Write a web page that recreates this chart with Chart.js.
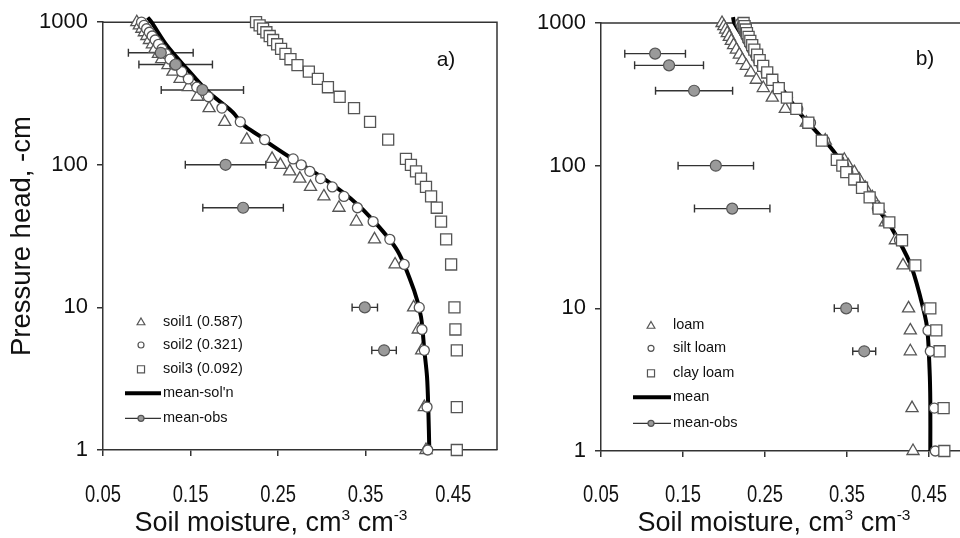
<!DOCTYPE html>
<html>
<head>
<meta charset="utf-8">
<script src="https://cdn.jsdelivr.net/npm/chart.js@4.4.1/dist/chart.umd.min.js"></script>
<style>
  html, body { margin: 0; padding: 0; background: #fff; overflow: hidden; width: 960px; height: 538px; }
  #left { position: absolute; left: 0; top: 0; }
  #right { position: absolute; left: 520px; top: 0; }
</style>
</head>
<body>
<canvas id="left" width="540" height="538"></canvas>
<canvas id="right" width="460" height="538"></canvas>
<script>
// pressure heads (-cm) of the simulated points
const heads = [1000, 950, 900, 850, 800, 750, 700, 650, 600, 550, 500, 450, 400, 350, 300, 250, 200, 150, 110, 100, 90, 80, 70, 60, 50, 40, 30, 20, 10, 7, 5, 2, 1];

// panel a)
const soil1 = [0.0886, 0.0915, 0.0944, 0.0972, 0.1001, 0.1030, 0.1064, 0.1093, 0.1133, 0.1170, 0.1242, 0.1299, 0.1380, 0.1475, 0.1578, 0.1712, 0.1890, 0.2142, 0.2431, 0.2526, 0.2633, 0.2748, 0.2870, 0.3023, 0.3195, 0.3394, 0.3601, 0.3836, 0.4048, 0.4101, 0.4140, 0.4170, 0.4189];
const soil2 = [0.0940, 0.0968, 0.0998, 0.1029, 0.1061, 0.1096, 0.1134, 0.1174, 0.1218, 0.1265, 0.1317, 0.1399, 0.1475, 0.1571, 0.1704, 0.1858, 0.2068, 0.2346, 0.2672, 0.2764, 0.2862, 0.2985, 0.3119, 0.3252, 0.3406, 0.3585, 0.3776, 0.3940, 0.4112, 0.4143, 0.4170, 0.4201, 0.4209];
const soil3 = [0.2248, 0.2289, 0.2328, 0.2366, 0.2404, 0.2443, 0.2489, 0.2534, 0.2584, 0.2641, 0.2721, 0.2851, 0.2954, 0.3069, 0.3203, 0.3367, 0.3550, 0.3757, 0.3960, 0.4017, 0.4075, 0.4132, 0.4189, 0.4247, 0.4312, 0.4361, 0.4419, 0.4476, 0.4514, 0.4525, 0.4541, 0.4541, 0.4541];
const meanSolHeads = [1080, 1000, 689, 473, 325, 236, 190, 158, 142, 108.6, 83, 58, 40, 24.9, 13.1, 8.6, 5, 3.25, 1.9, 1];
const meanSol = [0.1010, 0.1054, 0.1227, 0.1456, 0.1700, 0.1975, 0.2105, 0.2297, 0.2392, 0.2679, 0.2985, 0.3329, 0.3600, 0.3865, 0.4054, 0.4132, 0.4170, 0.4201, 0.4216, 0.4227];

// panel b)
const loam = [0.1976, 0.1998, 0.2020, 0.2040, 0.2065, 0.2089, 0.2117, 0.2150, 0.2187, 0.2223, 0.2272, 0.2327, 0.2394, 0.2479, 0.2589, 0.2748, 0.3004, 0.3235, 0.3467, 0.3516, 0.3589, 0.3650, 0.3723, 0.3809, 0.3894, 0.3968, 0.4090, 0.4183, 0.4251, 0.4272, 0.4272, 0.4293, 0.4305];
const siltLoam = [0.2200, 0.2215, 0.2232, 0.2249, 0.2270, 0.2292, 0.2317, 0.2345, 0.2380, 0.2414, 0.2460, 0.2514, 0.2582, 0.2668, 0.2775, 0.2900, 0.3055, 0.3225, 0.3400, 0.3460, 0.3510, 0.3600, 0.3690, 0.3775, 0.3870, 0.3995, 0.4140, 0.4310, 0.4476, 0.4488, 0.4516, 0.4565, 0.4577];
const clayLoam = [0.2239, 0.2251, 0.2266, 0.2280, 0.2300, 0.2321, 0.2344, 0.2370, 0.2404, 0.2435, 0.2478, 0.2527, 0.2589, 0.2668, 0.2767, 0.2882, 0.3028, 0.3193, 0.3376, 0.3443, 0.3491, 0.3589, 0.3683, 0.3776, 0.3885, 0.4016, 0.4171, 0.4333, 0.4516, 0.4589, 0.4629, 0.4678, 0.4687];
const meanHeads = [1100, 1000, 700, 500, 350, 231, 182, 135, 100, 70, 47.3, 36.2, 20.5, 12, 7.4, 3.7, 2.2, 1];
const mean = [0.2110, 0.2126, 0.2300, 0.2490, 0.2700, 0.2930, 0.3093, 0.3296, 0.3470, 0.3700, 0.3906, 0.4049, 0.4272, 0.4394, 0.4476, 0.4507, 0.4516, 0.4516];

// observed mean with spread (both panels)
const obsHeads = [610, 505, 335, 100, 50, 10, 5];
const obsMoisture = [0.116, 0.133, 0.1635, 0.190, 0.210, 0.349, 0.371];
const obsError = [0.037, 0.042, 0.047, 0.046, 0.046, 0.0145, 0.014];

const xTicks = [0.05, 0.15, 0.25, 0.35, 0.45];
const xTickLabels = ['0.05', '0.15', '0.25', '0.35', '0.45'];
const yTicks = [1, 10, 100, 1000];
const yTickLabels = ['1', '10', '100', '1000'];
const leftNames = ['soil1 (0.587)', 'soil2 (0.321)', 'soil3 (0.092)', "mean-sol'n", 'mean-obs'];
const rightNames = ['loam', 'silt loam', 'clay loam', 'mean', 'mean-obs'];

const SANS = '"Liberation Sans", Arial, sans-serif';
const EDGE = '#555';
const AXIS = '#333';

function pts(xs, ys) {
  return xs.map((x, i) => ({ x: x, y: ys[i] }));
}

function markers(label, xs, style, r, order) {
  return {
    label: label, data: pts(xs, heads), pointStyle: style,
    pointRadius: r, pointHoverRadius: r, pointBackgroundColor: '#fff',
    pointBorderColor: EDGE, pointBorderWidth: 1.3, showLine: false, clip: false, order: order
  };
}

function curve(label, xs, ys) {
  return {
    label: label, data: pts(xs, ys), showLine: true, borderColor: '#000', borderWidth: 4,
    pointRadius: 0, tension: 0.3, clip: false, order: 10
  };
}

function obs() {
  return {
    label: 'mean-obs', data: pts(obsMoisture, obsHeads), xErr: obsError, pointStyle: 'circle',
    pointRadius: 5.5, pointBackgroundColor: '#9a9a9a', pointBorderColor: EDGE, pointBorderWidth: 1.2,
    showLine: false, clip: false, order: 0
  };
}

const framePlugin = {
  id: 'frame',
  beforeDatasetsDraw(chart) {
    const ctx = chart.ctx, a = chart.chartArea;
    ctx.save();
    ctx.strokeStyle = AXIS;
    ctx.lineWidth = 1.5;
    ctx.beginPath();
    ctx.moveTo(a.left, a.top);
    ctx.lineTo(a.right, a.top);
    ctx.lineTo(a.right, a.bottom);
    ctx.stroke();
    // horizontal error bars of the observations
    const xs = chart.scales.x, ys = chart.scales.y;
    ctx.strokeStyle = '#333';
    ctx.lineWidth = 1.4;
    chart.data.datasets.forEach(ds => {
      if (!ds.xErr) return;
      ds.data.forEach((p, i) => {
        const y = ys.getPixelForValue(p.y);
        const x0 = xs.getPixelForValue(p.x - ds.xErr[i]);
        const x1 = xs.getPixelForValue(p.x + ds.xErr[i]);
        ctx.beginPath();
        ctx.moveTo(x0, y); ctx.lineTo(x1, y);
        ctx.moveTo(x0, y - 4); ctx.lineTo(x0, y + 4);
        ctx.moveTo(x1, y - 4); ctx.lineTo(x1, y + 4);
        ctx.stroke();
      });
    });
    ctx.restore();
  }
};

const decorPlugin = {
  id: 'decor',
  afterDraw(chart, args, o) {
    const ctx = chart.ctx;
    const h = Chart.helpers;
    ctx.save();
    // condensed x tick labels
    ctx.font = '23px ' + SANS;
    ctx.fillStyle = '#111';
    ctx.textAlign = 'center';
    ctx.textBaseline = 'alphabetic';
    xTicks.forEach((v, i) => {
      ctx.save();
      ctx.translate(chart.scales.x.getPixelForValue(v), 502);
      ctx.scale(0.8, 1);
      ctx.fillText(xTickLabels[i], 0, 0);
      ctx.restore();
    });
    // legend
    ctx.font = '14.5px ' + SANS;
    ctx.textBaseline = 'middle';
    o.names.forEach((name, i) => {
      const y = o.rowY[i];
      ctx.strokeStyle = EDGE;
      ctx.fillStyle = '#fff';
      if (i === 0) h.drawPoint(ctx, { pointStyle: 'triangle', radius: 4.5, borderWidth: 1.1 }, o.symX, y + 1);
      if (i === 1) h.drawPoint(ctx, { pointStyle: 'circle', radius: 3, borderWidth: 1.1 }, o.symX, y);
      if (i === 2) h.drawPoint(ctx, { pointStyle: 'rect', radius: 5, borderWidth: 1.1 }, o.symX, y);
      if (i === 3) {
        ctx.strokeStyle = '#000'; ctx.lineWidth = 4;
        ctx.beginPath(); ctx.moveTo(o.lineX0, y); ctx.lineTo(o.lineX1, y); ctx.stroke();
      }
      if (i === 4) {
        ctx.strokeStyle = '#333'; ctx.lineWidth = 1.3;
        ctx.beginPath(); ctx.moveTo(o.lineX0, y); ctx.lineTo(o.lineX1, y); ctx.stroke();
        ctx.fillStyle = '#9a9a9a'; ctx.strokeStyle = EDGE;
        h.drawPoint(ctx, { pointStyle: 'circle', radius: 3, borderWidth: 1 }, o.symX, y);
      }
      ctx.fillStyle = '#111';
      ctx.textAlign = 'left';
      ctx.fillText(name, o.textX, y);
    });
    // panel letter
    ctx.font = '21px ' + SANS;
    ctx.textAlign = 'center';
    ctx.textBaseline = 'alphabetic';
    ctx.fillText(o.letter, o.letterX, o.letterY);
    // x axis title with superscripts
    const big = '27px ' + SANS, small = '15.5px ' + SANS;
    const parts = [['Soil moisture, cm', big, 0], ['3', small, -11], [' cm', big, 0], ['-3', small, -11]];
    let total = 0;
    parts.forEach(p => { ctx.font = p[1]; total += ctx.measureText(p[0]).width; });
    let x = o.titleX - total / 2;
    ctx.textAlign = 'left';
    parts.forEach(p => {
      ctx.font = p[1];
      ctx.fillText(p[0], x, o.titleY + p[2]);
      x += ctx.measureText(p[0]).width;
    });
    ctx.restore();
  }
};

function scales(yWidth, xHeight, yTitle) {
  return {
    x: {
      type: 'linear', min: 0.05, max: 0.5,
      afterBuildTicks: s => { s.ticks = xTicks.map(v => ({ value: v })); },
      afterFit: s => { s.height = xHeight; },
      grid: { display: true, drawOnChartArea: false, drawTicks: true, tickLength: 6, color: AXIS, lineWidth: 1.5 },
      border: { display: true, color: AXIS, width: 1.5 },
      // labels are drawn condensed by the decor plugin
      ticks: { font: { family: SANS, size: 22 }, color: 'rgba(0,0,0,0)', padding: 22, maxRotation: 0, autoSkip: false,
               callback: (v, i) => xTickLabels[i] }
    },
    y: {
      type: 'logarithmic', min: 1, max: 1000,
      afterBuildTicks: s => { s.ticks = yTicks.map(v => ({ value: v })); },
      afterFit: s => { s.width = yWidth; },
      grid: { display: true, drawOnChartArea: false, drawTicks: true, tickLength: 6, color: AXIS, lineWidth: 1.5 },
      border: { display: true, color: AXIS, width: 1.5 },
      ticks: { font: { family: SANS, size: 22 }, color: '#111', padding: 9, autoSkip: false,
               callback: (v, i) => yTickLabels[i] },
      title: { display: yTitle, text: 'Pressure head, -cm', color: '#111',
               font: { family: SANS, size: 27.5 }, padding: { top: 6, bottom: 0 } }
    }
  };
}

new Chart(document.getElementById('left'), {
  type: 'scatter',
  data: {
    datasets: [
      obs(),
      markers(leftNames[2], soil3, 'rect', 7.8, 1),
      markers(leftNames[1], soil2, 'circle', 5, 2),
      markers(leftNames[0], soil1, 'triangle', 7, 3),
      curve(leftNames[3], meanSol, meanSolHeads)
    ]
  },
  options: {
    responsive: false, animation: false, events: [],
    layout: { padding: { left: 0, right: 43, top: 20, bottom: 0 } },
    scales: scales(103, 88, true),
    plugins: {
      legend: { display: false }, tooltip: { enabled: false },
      decor: { names: leftNames, rowY: [321.5, 345, 369.3, 393.3, 418.3], symX: 141, textX: 163,
               lineX0: 125, lineX1: 161, letter: 'a)', letterX: 446, letterY: 66, titleX: 271, titleY: 531 }
    }
  },
  plugins: [framePlugin, decorPlugin]
});

new Chart(document.getElementById('right'), {
  type: 'scatter',
  data: {
    datasets: [
      obs(),
      markers(rightNames[2], clayLoam, 'rect', 7.8, 1),
      markers(rightNames[1], siltLoam, 'circle', 5, 2),
      markers(rightNames[0], loam, 'triangle', 7, 3),
      curve(rightNames[3], mean, meanHeads)
    ]
  },
  options: {
    responsive: false, animation: false, events: [],
    layout: { padding: { left: 0, right: 10, top: 23, bottom: 0 } },
    scales: scales(81, 87, false),
    plugins: {
      legend: { display: false }, tooltip: { enabled: false },
      decor: { names: rightNames, rowY: [325, 348.3, 373.3, 397.3, 423.3], symX: 131, textX: 153,
               lineX0: 113, lineX1: 151, letter: 'b)', letterX: 405, letterY: 65, titleX: 254, titleY: 531 }
    }
  },
  plugins: [framePlugin, decorPlugin]
});
</script>
</body>
</html>
